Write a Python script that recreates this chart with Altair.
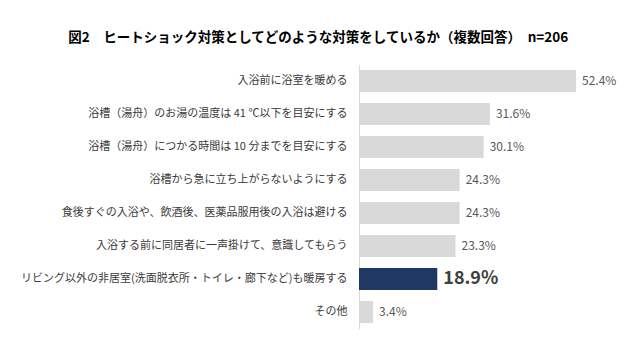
import altair as alt
import pandas as pd

categories = [
    "入浴前に浴室を暖める",
    "浴槽（湯舟）のお湯の温度は 41 ℃以下を目安にする",
    "浴槽（湯舟）につかる時間は 10 分までを目安にする",
    "浴槽から急に立ち上がらないようにする",
    "食後すぐの入浴や、飲酒後、医薬品服用後の入浴は避ける",
    "入浴する前に同居者に一声掛けて、意識してもらう",
    "リビング以外の非居室(洗面脱衣所・トイレ・廊下など)も暖房する",
    "その他",
]
values = [52.4, 31.6, 30.1, 24.3, 24.3, 23.3, 18.9, 3.4]
highlight = [0, 0, 0, 0, 0, 0, 1, 0]

title_text = "図2　ヒートショック対策としてどのような対策をしているか（複数回答）　n=206"

df = pd.DataFrame({"cat": categories, "v": values, "hl": highlight})

FONT = "Noto Sans CJK JP"

base = alt.Chart(df).transform_calculate(
    label="format(datum.v, '.1f') + '%'"
)

y_enc = alt.Y(
    "cat:N",
    sort=None,
    scale=alt.Scale(paddingInner=0.333, paddingOuter=0.1667),
    axis=alt.Axis(
        title=None,
        ticks=False,
        grid=False,
        domainColor="#d9d9d9",
        labelPadding=12,
        labelFontSize=11,
        labelFont=FONT,
        labelColor="#3a3a3a",
        labelLimit=500,
    ),
)
x_enc = alt.X("v:Q", scale=alt.Scale(domain=[0, 60]), axis=None)

bars = base.mark_bar().encode(
    x=x_enc,
    y=y_enc,
    color=alt.condition(alt.datum.hl == 1, alt.value("#203864"), alt.value("#d9d9d9")),
)

labels = base.transform_filter(alt.datum.hl == 0).mark_text(
    align="left", baseline="middle", dx=6, fontSize=12, font=FONT, color="#595959"
).encode(x=x_enc, y=y_enc, text="label:N")

labels_hl = base.transform_filter(alt.datum.hl == 1).mark_text(
    align="left", baseline="middle", dx=6, fontSize=18, fontWeight="bold", font=FONT, color="#404040"
).encode(x=x_enc, y=y_enc, text="label:N")

chart = (
    alt.layer(bars, labels, labels_hl)
    .properties(
        width=248.5,
        height=264,
        padding={"left": 351, "top": 56.5, "right": 22, "bottom": 20},
        autosize=alt.AutoSizeParams(type="none"),
        title=alt.Title(
            title_text,
            fontSize=13.5,
            fontWeight="bold",
            font=FONT,
            color="#000000",
            anchor="middle",
            dx=-165,
            offset=20,
        ),
        background="#ffffff",
    )
    .configure_view(stroke=None)
)

chart.save("out.html", embed_options={"renderer": "svg", "actions": False})
